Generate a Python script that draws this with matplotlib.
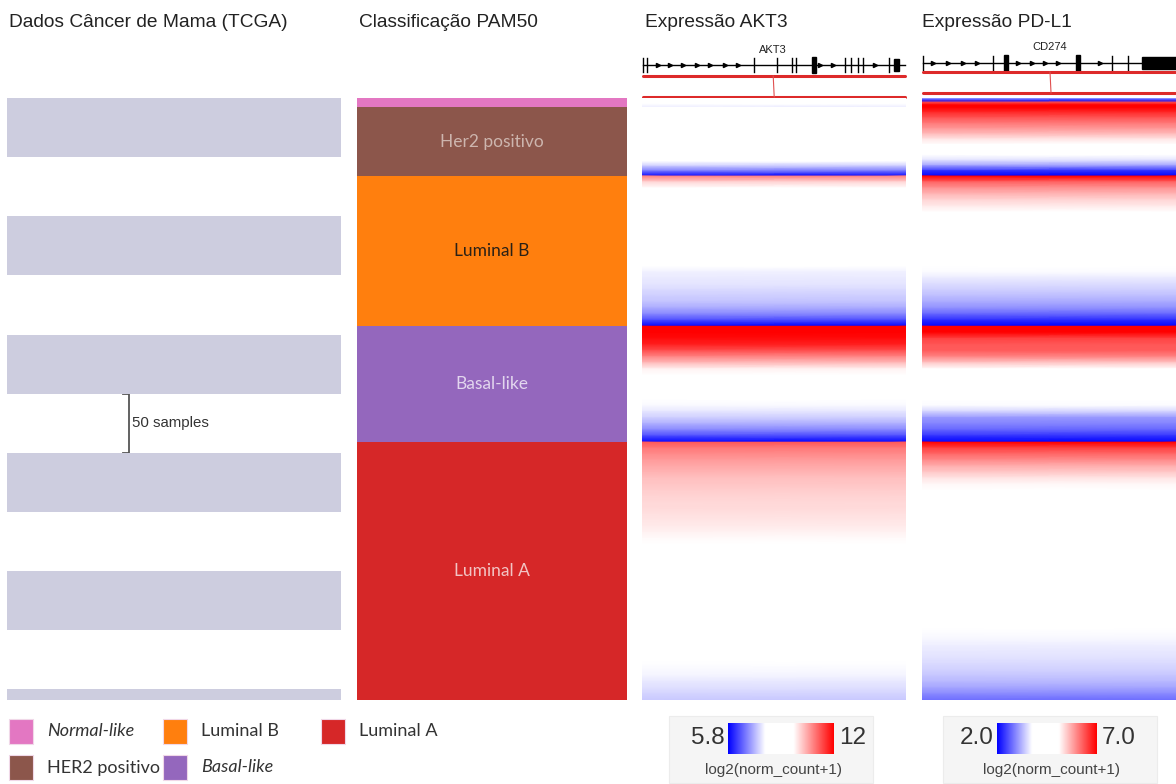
import numpy as np
import matplotlib
matplotlib.use('Agg')
import matplotlib.pyplot as plt
from matplotlib.colors import LinearSegmentedColormap, Normalize
from matplotlib.patches import Rectangle

W, H = 1176, 784

# PAM50 groups, in the order they are stacked (top -> bottom)
subtypes = ['Normal-like', 'HER2 positivo', 'Luminal B', 'Basal-like', 'Luminal A']
subtype_counts = [8, 58, 127, 98, 218]
subtype_colors = ['#e377c2', '#8c564b', '#ff7f0e', '#9467bd', '#d62728']
block_labels = ['', 'Her2 positivo', 'Luminal B', 'Basal-like', 'Luminal A']
block_label_colors = ['#ffffff', '#cdb5ae', '#2b2116', '#e2d6ee', '#f2c4c4']
legend_italic = [True, False, False, True, False]

n_samples = sum(subtype_counts)
stripe_len = 50

# sorted expression inside each group, log2(norm_count+1), read top -> bottom
akt3_values = [
    [9.0, 8.8, 8.5, 7.8],
    [9.2, 9.1, 9.0, 8.9, 8.8, 8.7, 8.6, 8.5, 8.4, 8.3, 8.2, 8.0, 7.5, 6.8, 5.8],
    [10.82, 10.02, 9.64, 9.5, 9.4, 9.3, 9.2, 9.1, 9.0, 8.9, 8.8, 8.6, 8.4,
     8.3, 8.2, 8.0, 7.85, 7.8, 7.74, 7.66, 7.55, 7.45, 7.25, 6.95, 6.45, 5.8],
    [12.4, 12.1, 11.88, 11.69, 11.26, 10.76, 10.26, 9.77, 9.4, 9.09, 8.78,
     8.47, 8.16, 7.93, 7.75, 7.55, 7.3, 6.95, 6.45, 5.8],
    [11.19, 10.88, 10.7, 10.57, 10.45, 10.33, 10.23, 10.17, 10.11, 10.05,
     10.0, 9.97, 9.93, 9.89, 9.83, 9.77, 9.68, 9.55, 9.47, 9.39, 9.31, 9.23,
     9.15, 9.07, 8.99, 8.91, 8.83, 8.75, 8.67, 8.59, 8.51, 8.43, 8.35, 8.27,
     8.19, 8.11, 8.03, 7.97, 7.93, 7.86, 7.78, 7.7, 7.6, 7.5],
]
pdl1_values = [
    [3.25, 2.25, 6.5, 7.0, 7.0],
    [7.0, 6.65, 6.35, 6.1, 5.85, 5.6, 5.3, 5.0, 4.5, 3.85, 3.55, 3.1, 2.35, 2.0],
    [7.0, 6.25, 5.9, 5.65, 5.4, 5.25, 5.1, 4.95, 4.8, 4.65, 4.5, 4.35, 4.2,
     4.05, 3.95, 3.85, 3.72, 3.62, 3.52, 3.42, 3.3, 3.17, 2.98, 2.7, 2.3, 2.0],
    [7.3, 7.1, 6.5, 6.35, 6.3, 6.0, 5.5, 5.1, 4.9, 4.65, 4.4, 4.2, 4.0, 3.72,
     3.45, 3.05, 2.9, 2.7, 2.35, 2.0],
    [7.0, 6.5, 6.2, 5.95, 5.7, 5.5, 5.3, 5.15, 5.0, 4.95, 4.9, 4.84, 4.79,
     4.73, 4.68, 4.62, 4.57, 4.51, 4.46, 4.4, 4.35, 4.29, 4.24, 4.18, 4.13,
     4.07, 4.02, 3.96, 3.91, 3.85, 3.8, 3.76, 3.72, 3.68, 3.64, 3.6, 3.55,
     3.5, 3.43, 3.35, 3.25, 3.12, 2.95, 2.75],
]
akt3_range = (5.8, 12.0)
pdl1_range = (2.0, 7.0)
akt3_cbar_labels = ['5.8', '12']
pdl1_cbar_labels = ['2.0', '7.0']

# gene models (position as fraction of the column width)
akt3_ticks = [0.004, 0.019, 0.424, 0.511, 0.568, 0.583, 0.769, 0.792, 0.818, 0.837, 0.936]
akt3_thick = [0.652]
akt3_arrows = [0.061, 0.106, 0.155, 0.208, 0.258, 0.314, 0.364, 0.674, 0.723, 0.883]
akt3_block = (0.955, 0.972)
cd274_ticks = [0.004, 0.280, 0.748, 0.811]
cd274_thick = [0.331, 0.614]
cd274_arrows = [0.043, 0.102, 0.161, 0.217, 0.378, 0.433, 0.484, 0.535, 0.701]
cd274_block = (0.866, 1.0)

cmap = LinearSegmentedColormap.from_list(
    'xena', [(0, '#0000ff'), (0.35, '#ffffff'), (0.62, '#ffffff'), (1, '#ff0000')])

TOP, BOTTOM = 98, 700
title_font = dict(family='Liberation Sans', fontsize=13.8, color='#222222')
cal_font = 'Lato'

fig = plt.figure(figsize=(W / 100, H / 100), dpi=100)


def px_axes(x0, y0, x1, y1):
    return fig.add_axes([x0 / W, 1 - y1 / H, (x1 - x0) / W, (y1 - y0) / H])


ov = fig.add_axes([0, 0, 1, 1])
ov.set_xlim(0, W)
ov.set_ylim(H, 0)
ov.axis('off')

# --- column 1: sample stripes
ax1 = px_axes(7, TOP, 341, BOTTOM)
starts = np.arange(0, n_samples, 2 * stripe_len)
ax1.barh(starts, [1] * len(starts), height=stripe_len, align='edge', color='#cdcddf')
ax1.set_xlim(0, 1)
ax1.set_ylim(n_samples, 0)
ax1.axis('off')
ov.text(9, 22, 'Dados Câncer de Mama (TCGA)', va='center', ha='left', **title_font)

# "50 samples" bracket, in sample units
sy0 = TOP + (BOTTOM - TOP) * 250 / n_samples
sy1 = TOP + (BOTTOM - TOP) * 300 / n_samples
ov.plot([123, 129, 129, 123], [sy0, sy0, sy1, sy1], color='#555555', lw=1.3)
ov.text(132, (sy0 + sy1) / 2, '50 samples', va='center', ha='left',
        family='Liberation Sans', fontsize=10.8, color='#333333')

# --- column 2: PAM50 blocks
ax2 = px_axes(357, TOP, 627, BOTTOM)
lefts = np.cumsum([0] + subtype_counts[:-1])
ax2.barh(lefts, [1] * len(lefts), height=subtype_counts, align='edge',
         color=subtype_colors)
for st, cnt, lab, lc in zip(lefts, subtype_counts, block_labels, block_label_colors):
    if lab:
        ax2.text(0.5, st + cnt / 2, lab, ha='center', va='center',
                 family=cal_font, fontsize=12.5, color=lc)
ax2.set_xlim(0, 1)
ax2.set_ylim(n_samples, 0)
ax2.axis('off')
ov.text(359, 22, 'Classificação PAM50', va='center', ha='left', **title_font)


# --- heatmaps
def draw_heat(ax, blocks, vrange):
    norm = Normalize(vrange[0], vrange[1])
    start = 0
    for cnt, vals in zip(subtype_counts, blocks):
        vals = np.asarray(vals, dtype=float)
        y = start + np.linspace(0, cnt, len(vals))
        X, Y = np.meshgrid([0, 1], y)
        C = np.column_stack([vals, vals])
        ax.pcolormesh(X, Y, C, shading='gouraud', cmap=cmap, norm=norm)
        start += cnt
    ax.set_xlim(0, 1)
    ax.set_ylim(n_samples, 0)
    ax.axis('off')


def gene_track(x0, x1, y_line, ticks, thick, arrows, block, name, name_y,
               red1, red2, conn):
    w = x1 - x0
    ov.plot([x0 + 1, x1 - 1], [y_line, y_line], color='black', lw=1)
    for f in ticks:
        ov.plot([x0 + f * w] * 2, [y_line - 7, y_line + 7], color='black', lw=1)
    for f in thick:
        ov.add_patch(Rectangle((x0 + f * w - 1.8, y_line - 8), 3.6, 16, color='black'))
    ov.plot([x0 + f * w for f in arrows], [y_line] * len(arrows), ls='none',
            marker='>', ms=3, color='black')
    ov.add_patch(Rectangle((x0 + block[0] * w, y_line - 6), (block[1] - block[0]) * w,
                           12, color='black'))
    ov.text(x0 + conn * w, name_y, name, ha='center', va='center',
            family='Liberation Sans', fontsize=8, color='#222222')
    ov.plot([x0 + 1, x1 - 1], [red1, red1], color='#dd2a2a', lw=2.2,
            solid_capstyle='round')
    ov.plot([x0 + 1, x1 - 1], [red2, red2], color='#dd2a2a', lw=2.2,
            solid_capstyle='round')
    ov.plot([x0 + conn * w, x0 + conn * w + 1], [red1, red2], color='#e05050', lw=0.8)


def color_key(bx0, bx1, gx0, gx1, vrange, labels):
    ov.add_patch(Rectangle((bx0, 716), bx1 - bx0, 67, facecolor='#f5f5f5',
                           edgecolor='#ececec', lw=0.8, zorder=1))
    grad = np.linspace(vrange[0], vrange[1], 256).reshape(1, -1)
    ov.imshow(grad, cmap=cmap, norm=Normalize(*vrange), aspect='auto',
              extent=(gx0, gx1, 754, 723), interpolation='bilinear', zorder=2)
    ov.text(gx0 - 3, 738, labels[0], ha='right', va='center',
            family='Liberation Sans', fontsize=17.5, color='#333333', zorder=3)
    ov.text(gx1 + 5, 738, labels[1], ha='left', va='center',
            family='Liberation Sans', fontsize=17.5, color='#333333', zorder=3)
    ov.text((bx0 + bx1) / 2 + 2, 770, 'log2(norm_count+1)', ha='center', va='center',
            family='Liberation Sans', fontsize=11, color='#444444', zorder=3)


ax3 = px_axes(642, TOP, 906, BOTTOM)
draw_heat(ax3, akt3_values, akt3_range)
ov.text(645, 22, 'Expressão AKT3', va='center', ha='left', **title_font)
gene_track(642, 906, 64.5, akt3_ticks, akt3_thick, akt3_arrows, akt3_block,
           'AKT3', 50, 76, 97, 0.497)
color_key(669, 873, 728, 834, akt3_range, akt3_cbar_labels)

ax4 = px_axes(922, TOP, 1176, BOTTOM)
draw_heat(ax4, pdl1_values, pdl1_range)
ov.text(922, 22, 'Expressão PD-L1', va='center', ha='left', **title_font)
gene_track(922, 1176, 62.5, cd274_ticks, cd274_thick, cd274_arrows, cd274_block,
           'CD274', 47, 72, 93, 0.504)
color_key(943, 1157, 997, 1097, pdl1_range, pdl1_cbar_labels)
ov.set_xlim(0, W)
ov.set_ylim(H, 0)

# --- legend (3 columns x 2 rows, filled column-wise)
for i, (name, col, it) in enumerate(zip(subtypes, subtype_colors, legend_italic)):
    cx = [9, 163, 321][i // 2]
    cy = [719, 755][i % 2]
    ov.add_patch(Rectangle((cx, cy), 24, 25, facecolor=col, edgecolor='#f0d8e8', lw=0.8))
    ov.text(cx + 38, cy + 12.5, name, ha='left', va='center', family=cal_font,
            fontsize=13, color='#333333', style='italic' if it else 'normal')

fig.savefig('out.png', dpi=100)
